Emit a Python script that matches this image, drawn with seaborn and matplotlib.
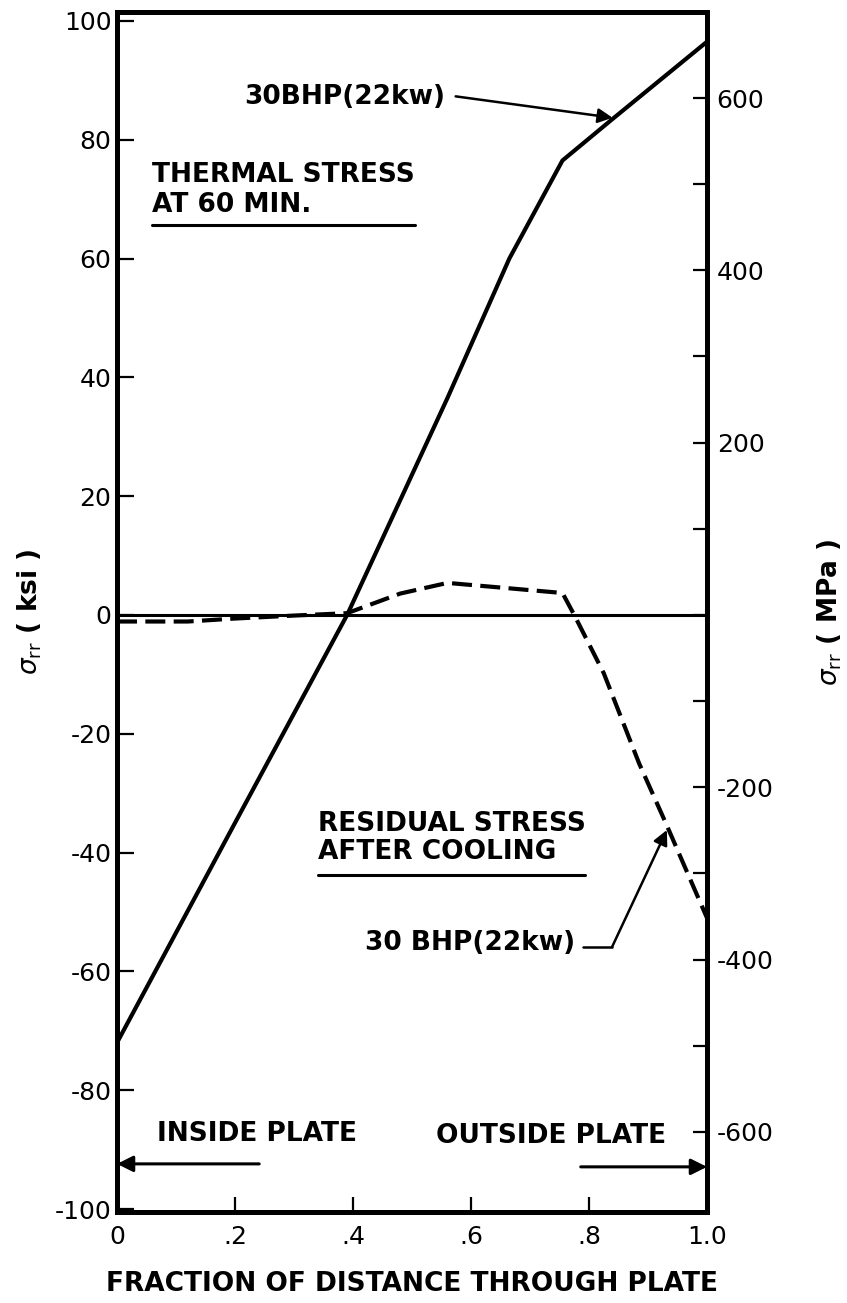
import matplotlib
matplotlib.use("Agg")
import matplotlib.pyplot as plt
import seaborn as sns
import pandas as pd

# ---------------- data ----------------
thermal_x = [0.0, 0.20, 0.39, 0.56, 0.665, 0.755, 0.84, 1.0]
thermal_ksi = [-72.0, -35.0, 0.0, 36.5, 60.0, 76.5, 83.5, 96.5]

resid_x = [0.0, 0.12, 0.20, 0.30, 0.39, 0.48, 0.56, 0.755, 0.775, 0.825, 0.885, 0.93, 1.0]
resid_ksi = [-1.1, -1.1, -0.6, -0.1, 0.3, 3.6, 5.4, 3.7, 0.0, -9.8, -25.0, -35.0, -51.0]

x_ticks = [0.0, 0.2, 0.4, 0.6, 0.8, 1.0]
x_ticklabels = ["0", ".2", ".4", ".6", ".8", "1.0"]
ksi_ticks = [100, 80, 60, 40, 20, 0, -20, -40, -60, -80, -100]
ksi_ticklabels = ["100", "80", "60", "40", "20", "0", "-20", "-40", "-60", "-80", "-100"]
mpa_ticks = [-600, -500, -400, -300, -200, -100, 0, 100, 200, 300, 400, 500, 600]
mpa_labelled = {-600: "-600", -400: "-400", -200: "-200", 200: "200", 400: "400", 600: "600"}
KSI_TO_MPA = 6.895

thermal = pd.DataFrame({"x": thermal_x, "ksi": thermal_ksi})
resid = pd.DataFrame({"x": resid_x, "ksi": resid_ksi})

# ---------------- style ----------------
sns.set_style("ticks")
plt.rcParams["font.family"] = ["DejaVu Sans"]
plt.rcParams["mathtext.fontset"] = "dejavusans"
plt.rcParams["text.color"] = "black"
plt.rcParams["axes.labelcolor"] = "black"
plt.rcParams["axes.edgecolor"] = "black"
plt.rcParams["xtick.color"] = "black"
plt.rcParams["ytick.color"] = "black"

fig = plt.figure(figsize=(8.47, 13.03), dpi=100)
ax = fig.add_axes([117 / 847, (1303 - 1212) / 1303, 590 / 847, 1200 / 1303])

ylo, yhi = -100.5, 101.5
ax.set_xlim(0, 1.0)
ax.set_ylim(ylo, yhi)

# zero line
ax.axhline(0, color="black", lw=2.2, zorder=2)

sns.lineplot(data=thermal, x="x", y="ksi", ax=ax, color="black", lw=3.0,
             estimator=None, sort=False, zorder=3)
sns.lineplot(data=resid, x="x", y="ksi", ax=ax, color="black", lw=3.0,
             estimator=None, sort=False, linestyle=(0, (4.8, 2.0)), zorder=3)

# spines / ticks
for s in ax.spines.values():
    s.set_linewidth(3.5)
    s.set_color("black")
ax.set_xticks(x_ticks)
ax.set_xticklabels(x_ticklabels)
ax.set_yticks(ksi_ticks)
ax.set_yticklabels(ksi_ticklabels)
ax.tick_params(axis="y", direction="in", length=12, width=1.6, pad=4,
               labelsize=18, colors="black")
ax.tick_params(axis="x", direction="in", length=11, width=1.6, pad=9,
               labelsize=18, colors="black")
ax.set_xlabel("FRACTION OF DISTANCE THROUGH PLATE", fontsize=19,
              fontweight="bold", labelpad=16, color="black")
ax.set_ylabel(r"$\sigma_{\mathrm{rr}}$ ( ksi )", fontsize=19, fontweight="bold",
              labelpad=8, color="black")

# right axis in MPa
ax2 = ax.twinx()
ax2.set_ylim(ylo * KSI_TO_MPA, yhi * KSI_TO_MPA)
ax2.set_yticks(mpa_ticks)
ax2.set_yticklabels([mpa_labelled.get(t, "") for t in mpa_ticks])
ax2.tick_params(axis="y", direction="in", length=10, width=1.6, pad=7,
                labelsize=18, colors="black")
for s in ax2.spines.values():
    s.set_linewidth(3.5)
    s.set_color("black")
ax2.set_ylabel(r"$\sigma_{\mathrm{rr}}$ ( MPa )", fontsize=19, fontweight="bold",
               labelpad=30, rotation=90, color="black")
ax2.grid(False)
ax.grid(False)

# annotations
txt = dict(fontsize=19, fontweight="bold", color="black", va="center")
ax.text(0.059, 74.1, "THERMAL STRESS", ha="left", **txt)
ax.text(0.059, 69.0, "AT 60 MIN.", ha="left", **txt)
ax.plot([0.059, 0.505], [65.6, 65.6], color="black", lw=2.2)

ax.text(0.341, -35.2, "RESIDUAL STRESS", ha="left", **txt)
ax.text(0.341, -39.9, "AFTER COOLING", ha="left", **txt)
ax.plot([0.341, 0.793], [-43.8, -43.8], color="black", lw=2.2)

ax.text(0.556, 87.2, "30BHP(22kw)", ha="right", **txt)
ax.annotate("", xy=(0.84, 83.7), xytext=(0.574, 87.3),
            arrowprops=dict(arrowstyle="-|>", color="black", lw=1.8,
                            mutation_scale=22, shrinkA=0, shrinkB=0))

ax.text(0.777, -55.3, "30 BHP(22kw)", ha="right", **txt)
ax.plot([0.79, 0.839], [-55.9, -55.9], color="black", lw=1.8)
ax.annotate("", xy=(0.932, -36.2), xytext=(0.839, -55.9),
            arrowprops=dict(arrowstyle="-|>", color="black", lw=1.8,
                            mutation_scale=22, shrinkA=0, shrinkB=0))

ax.text(0.068, -87.4, "INSIDE PLATE", ha="left", **txt)
ax.annotate("", xy=(0.0, -92.4), xytext=(0.241, -92.4),
            arrowprops=dict(arrowstyle="-|>", color="black", lw=2.2,
                            mutation_scale=24, shrinkA=0, shrinkB=0))
ax.text(0.541, -87.7, "OUTSIDE PLATE", ha="left", **txt)
ax.annotate("", xy=(1.0, -92.9), xytext=(0.786, -92.9),
            arrowprops=dict(arrowstyle="-|>", color="black", lw=2.2,
                            mutation_scale=24, shrinkA=0, shrinkB=0))

fig.savefig("out.png", dpi=100, facecolor="white")
